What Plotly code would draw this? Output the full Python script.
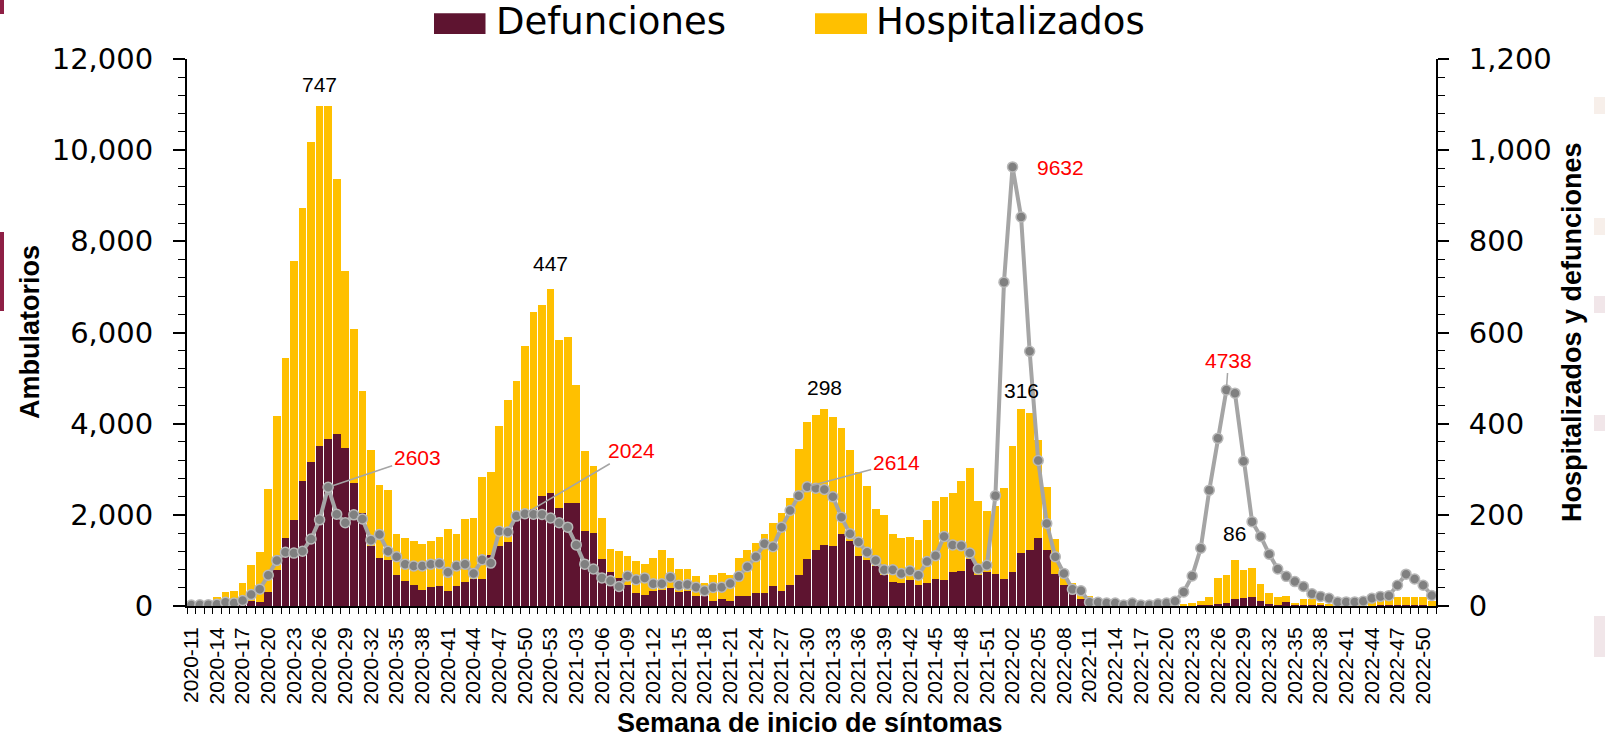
import plotly.graph_objects as go

# ---------------- data ----------------
weeks = ([f"2020-{w:02d}" for w in range(11, 54)]
         + [f"2021-{w:02d}" for w in range(1, 53)]
         + [f"2022-{w:02d}" for w in range(1, 52)])

defunciones_2020 = [0, 0, 0, 1, 2, 3, 4, 10, 9, 31, 78, 149, 189, 274, 315, 351, 366, 378, 347, 269,
                    205, 132, 106, 100, 67, 55, 45, 36, 41, 43, 33, 43, 53, 59, 59, 112, 132, 140, 193, 195,
                    213, 242, 248]
defunciones_2021 = [216, 226, 227, 164, 161, 104, 74, 62, 45, 29, 25, 33, 35, 39, 31, 33, 23, 21, 11, 15,
                    12, 23, 21, 28, 28, 43, 33, 45, 67, 104, 122, 134, 132, 157, 143, 110, 102, 88, 69, 53,
                    51, 58, 45, 51, 59, 58, 74, 77, 104, 69, 74, 70]
defunciones_2022 = [59, 74, 116, 123, 149, 123, 71, 47, 35, 15, 11, 5, 3, 2, 2, 1, 1, 1, 1, 1,
                    1, 1, 1, 2, 3, 5, 6, 15, 17, 19, 11, 5, 3, 8, 2, 3, 3, 2, 1, 1,
                    1, 1, 1, 1, 2, 2, 2, 2, 2, 2, 1]

hospitalizados_2020 = [2, 3, 5, 19, 29, 30, 46, 80, 110, 225, 338, 395, 567, 599, 703, 747, 731, 558, 388, 338,
                       267, 211, 159, 155, 92, 94, 97, 100, 101, 109, 136, 115, 138, 135, 223, 183, 262, 313, 301, 376,
                       432, 419, 447]
hospitalizados_2021 = [368, 365, 258, 175, 146, 89, 52, 58, 65, 69, 68, 73, 88, 67, 50, 48, 42, 30, 56, 58,
                       55, 83, 101, 110, 131, 140, 172, 191, 278, 299, 296, 298, 282, 233, 200, 183, 162, 125, 130, 105,
                       99, 93, 99, 138, 171, 181, 174, 197, 199, 161, 135, 150]
hospitalizados_2022 = [199, 277, 316, 300, 215, 137, 76, 27, 16, 12, 12, 8, 5, 4, 3, 3, 2, 2, 2, 2,
                       3, 4, 5, 10, 17, 56, 63, 86, 63, 65, 38, 24, 17, 15, 5, 12, 12, 5, 4, 3,
                       3, 3, 5, 10, 18, 18, 18, 18, 18, 18, 10]

ambulatorios_2020 = [20, 25, 30, 40, 80, 65, 120, 250, 370, 675, 1000, 1180, 1160, 1200, 1470, 1890, 2603, 2014, 1827, 2000,
                     1910, 1445, 1567, 1200, 1080, 918, 877, 877, 918, 934, 739, 877, 918, 715, 1015, 942, 1640, 1624, 1973, 2024,
                     2014, 2010, 1930]
ambulatorios_2021 = [1827, 1730, 1340, 918, 812, 617, 552, 430, 658, 577, 617, 487, 487, 633, 455, 471, 414, 333, 406, 414,
                     495, 650, 861, 1080, 1364, 1300, 1730, 2095, 2420, 2614, 2582, 2558, 2395, 1949, 1583, 1405, 1177, 999, 796, 796,
                     715, 771, 674, 974, 1104, 1527, 1340, 1324, 1161, 812, 893, 2420]
ambulatorios_2022 = [7105, 9632, 8534, 5587, 3191, 1811, 1080, 715, 365, 333, 81, 81, 65, 65, 24, 65, 24, 24, 49, 65,
                     105, 309, 658, 1267, 2542, 3678, 4738, 4669, 3175, 1851, 1527, 1137, 812, 650, 536, 430, 268, 211, 170, 89,
                     89, 89, 105, 170, 211, 227, 455, 698, 593, 455, 230]

defunciones = defunciones_2020 + defunciones_2021 + defunciones_2022
hospitalizados = hospitalizados_2020 + hospitalizados_2021 + hospitalizados_2022
ambulatorios = ambulatorios_2020 + ambulatorios_2021 + ambulatorios_2022

# labelled points
hosp_label_weeks = ["2020-26", "2020-53", "2021-32", "2022-03", "2022-28"]
amb_label_weeks = ["2020-27", "2020-50", "2021-30", "2022-02", "2022-27"]

# ---------------- styling ----------------
MAROON = "#5E1430"
GOLD = "#FFC000"
GRAY_LINE = "#A5A5A5"
GRAY_MARK = "#808080"
NUM_FONT = "DejaVu Sans"
LAB_FONT = "Liberation Sans"
TITLE_FONT = "Liberation Sans"

W, H = 1605, 738
L, R, T, B = 187, 1436, 59, 606


def px(x):
    return (x - L) / (R - L)


def py(y):
    return (B - y) / (B - T)


idx = list(range(len(weeks)))
pos = {w: i for i, w in enumerate(weeks)}

fig = go.Figure()
fig.add_trace(go.Bar(x=idx, y=defunciones, name="Defunciones",
                     marker=dict(color=MAROON, line=dict(width=0)), yaxis="y", showlegend=False))
fig.add_trace(go.Bar(x=idx, y=hospitalizados, name="Hospitalizados",
                     marker=dict(color=GOLD, line=dict(width=0)), yaxis="y", showlegend=False))
fig.add_trace(go.Scatter(x=idx, y=ambulatorios, name="Ambulatorios", mode="lines+markers", yaxis="y2",
                         line=dict(color=GRAY_LINE, width=4),
                         marker=dict(size=10, color=GRAY_MARK, line=dict(color="#B8B8B8", width=1.5)),
                         showlegend=False))

annotations = []
# black labels: hospitalizados above the stacked bars
hosp_shift = [21.5, 26, 22, 18.5, 26]
for w, sh in zip(hosp_label_weeks, hosp_shift):
    i = pos[w]
    annotations.append(dict(x=i, y=defunciones[i] + hospitalizados[i], xref="x", yref="y",
                            text=str(hospitalizados[i]), showarrow=False, yshift=sh,
                            xanchor="center", yanchor="middle",
                            font=dict(family=LAB_FONT, size=21, color="black")))
# red labels: ambulatorios peaks
amb_offsets = [(89, -30, True), (107, -63, True), (89, -24, True), (48, 1, False), (2, -30, True)]
for w, (ax, ay, arrow) in zip(amb_label_weeks, amb_offsets):
    i = pos[w]
    if arrow:
        annotations.append(dict(x=i, y=ambulatorios[i], xref="x", yref="y2", text=str(ambulatorios[i]),
                                showarrow=True, arrowhead=0, arrowwidth=1.5, arrowcolor=GRAY_LINE,
                                ax=ax, ay=ay, standoff=4,
                                font=dict(family=LAB_FONT, size=21, color="#FF0000")))
    else:
        annotations.append(dict(x=i, y=ambulatorios[i], xref="x", yref="y2", text=str(ambulatorios[i]),
                                showarrow=False, xshift=ax, yshift=-ay, xanchor="center", yanchor="middle",
                                font=dict(family=LAB_FONT, size=21, color="#FF0000")))

# axis titles
annotations.append(dict(text="<b>Ambulatorios</b>", xref="paper", yref="paper", x=px(30), y=py(332),
                        xanchor="center", yanchor="middle",
                        textangle=-90, showarrow=False, font=dict(family=TITLE_FONT, size=27, color="black")))
annotations.append(dict(text="<b>Hospitalizados y defunciones</b>", xref="paper", yref="paper", x=px(1572),
                        y=py(332), xanchor="center", yanchor="middle", textangle=-90, showarrow=False,
                        font=dict(family=TITLE_FONT, size=27, color="black")))
annotations.append(dict(text="<b>Semana de inicio de síntomas</b>", xref="paper", yref="paper", x=px(810),
                        y=py(723), xanchor="center", yanchor="middle", showarrow=False,
                        font=dict(family=TITLE_FONT, size=27, color="black")))

# legend (large swatches as in the original)
legend_items = [("Defunciones", MAROON, 434, 485.5, 494), ("Hospitalizados", GOLD, 815, 867, 873.6)]
shapes = []
for name, col, x0, x1, xt in legend_items:
    shapes.append(dict(type="rect", xref="paper", yref="paper", x0=px(x0), x1=px(x1), y0=py(34), y1=py(13.3),
                       fillcolor=col, line=dict(width=0)))
    annotations.append(dict(text=name, xref="paper", yref="paper", x=px(xt), y=py(22), xanchor="left",
                            yanchor="middle", showarrow=False,
                            font=dict(family=NUM_FONT, size=37, color="black")))

# slide decorations
shapes += [
    dict(type="rect", xref="paper", yref="paper", x0=px(0), x1=px(4), y0=py(14), y1=py(0),
         fillcolor="#8E1F45", line=dict(width=0)),
    dict(type="rect", xref="paper", yref="paper", x0=px(0), x1=px(4), y0=py(311), y1=py(232),
         fillcolor="#8E1F45", line=dict(width=0)),
]
for (ya, yb, c) in [(97, 114, "#F7EFEA"), (218, 235, "#F7EFEA"), (296, 313, "#F1E6E9"),
                    (415, 431, "#F1E6E9"), (616, 657, "#F1E6E9")]:
    shapes.append(dict(type="rect", xref="paper", yref="paper", x0=px(1594), x1=px(1605),
                       y0=py(yb), y1=py(ya), fillcolor=c, line=dict(width=0)))

fig.update_layout(
    width=W, height=H,
    margin=dict(l=L, r=W - R, t=T, b=H - B, autoexpand=False),
    paper_bgcolor="white", plot_bgcolor="white",
    barmode="stack", bargap=0.1,
    showlegend=False,
    xaxis=dict(range=[-0.5, len(weeks) - 0.5], tickmode="array", tickvals=idx[::3], ticktext=weeks[::3],
               tickangle=-90, tickfont=dict(family=LAB_FONT, size=21, color="black"),
               showline=True, linecolor="black", linewidth=2, ticks="", showgrid=False, zeroline=False,
               ticklabelstandoff=11,
               minor=dict(tickmode="linear", tick0=-0.5, dtick=1, ticks="outside", ticklen=6,
                          tickcolor="black", tickwidth=1, showgrid=False)),
    yaxis=dict(side="right", range=[0, 1200], tickmode="linear", tick0=0, dtick=200, tickformat=",",
               tickfont=dict(family=NUM_FONT, size=29, color="black"),
               showline=True, linecolor="black", linewidth=2, ticks="outside", ticklen=11, tickwidth=1.5,
               tickcolor="black", showgrid=False, zeroline=False, ticklabelstandoff=14,
               minor=dict(tickmode="linear", tick0=0, dtick=40, ticks="outside", ticklen=7,
                          tickcolor="black", tickwidth=1.2, showgrid=False)),
    yaxis2=dict(overlaying="y", side="left", range=[0, 12000], tickmode="linear", tick0=0, dtick=2000,
                tickformat=",", tickfont=dict(family=NUM_FONT, size=29, color="black"),
                showline=True, linecolor="black", linewidth=2, ticks="outside", ticklen=12, tickwidth=1.5,
                tickcolor="black", showgrid=False, zeroline=False, ticklabelstandoff=14,
                minor=dict(tickmode="linear", tick0=0, dtick=400, ticks="outside", ticklen=7,
                           tickcolor="black", tickwidth=1.2, showgrid=False)),
    annotations=annotations,
    shapes=shapes,
)

fig.write_html("out.html", config={"displayModeBar": False},
               post_script="document.body.style.margin='0px';document.body.style.overflow='hidden';")
